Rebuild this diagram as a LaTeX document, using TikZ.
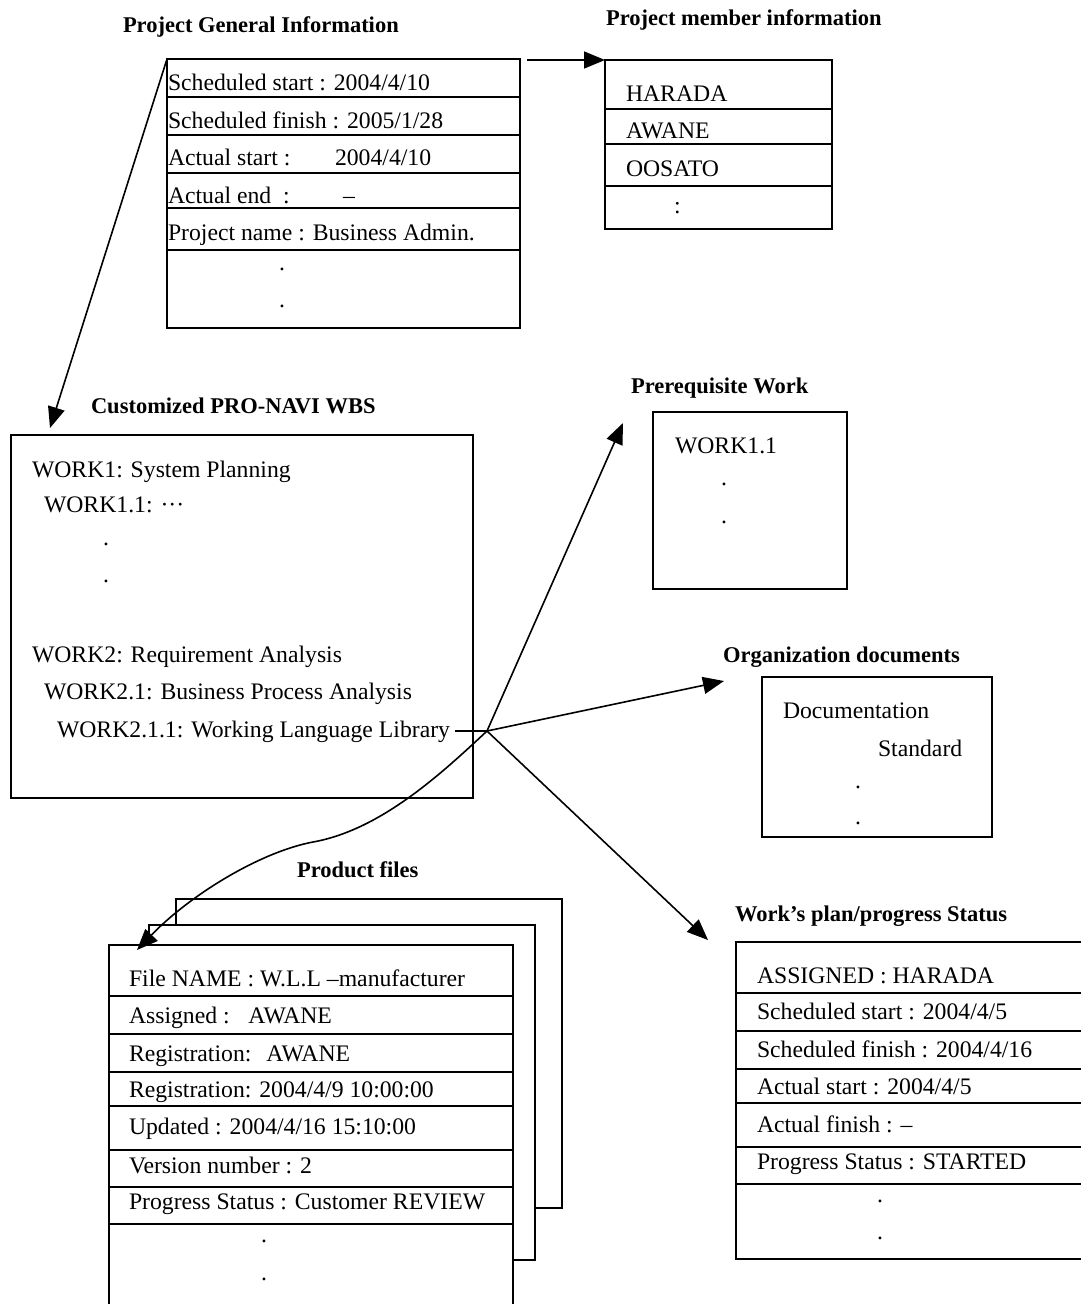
\documentclass[tikz,border=0pt]{standalone}
\usepackage{fontspec}
\setmainfont{Liberation Serif}
\usetikzlibrary{arrows.meta}
\newcommand\bodyfs{\fontsize{23.7}{28}\selectfont}
\newcommand\ttlfs{\fontsize{22.5}{27}\selectfont\bfseries}
\begin{document}
\begin{tikzpicture}[x=1pt,y=-1pt,
  frame/.style={draw,line width=1.6pt,fill=white,anchor=north west,inner sep=0pt,outer sep=0pt},
  rowline/.style={line width=1.6pt},
  txt/.style={anchor=base west,inner sep=0pt,outer sep=0pt,font=\bodyfs},
  ttl/.style={anchor=base west,inner sep=0pt,outer sep=0pt,font=\ttlfs},
  conn/.style={line width=1.6pt,-{Triangle[length=21pt,width=17pt]}},
  plain/.style={line width=1.6pt}]
\useasboundingbox (0,0) rectangle (1080,1304);

% ---------- Project General Information ----------
\node[ttl] (tpg) at (123,32) {Project General Information};
\node[frame,minimum width=353pt,minimum height=269pt] (pg) at (167,59) {};
\foreach \yy in {97,135,173,208,250} \draw[rowline] (167,\yy) -- (520,\yy);
\node[txt] (pg1) at (168,90) {Scheduled start : 2004/4/10};
\node[txt] (pg2) at (168,128) {Scheduled finish : 2005/1/28};
\node[txt] (pg3) at (168,165) {\makebox[167pt][l]{Actual start :}2004/4/10};
\node[txt] (pg4) at (168,203) {\makebox[175pt][l]{Actual end\ \ :}–};
\node[txt] (pg5) at (168,240) {Project name : Business Admin.};
\node[txt] (pg6) at (279,270) {.};
\node[txt] (pg7) at (279,307) {.};

% ---------- Project member information ----------
\node[ttl] (tpm) at (606,25) {Project member information};
\node[frame,minimum width=227pt,minimum height=169pt] (pm) at (605,60) {};
\foreach \yy in {109,144,186} \draw[rowline] (605,\yy) -- (832,\yy);
\node[txt] (pm1) at (626,101) {HARADA};
\node[txt] (pm2) at (626,138) {AWANE};
\node[txt] (pm3) at (626,176) {OOSATO};
\node[txt] (pm4) at (674,213) {:};

% ---------- Customized PRO-NAVI WBS ----------
\node[ttl] (twbs) at (91,413) {Customized PRO-NAVI WBS};
\node[frame,minimum width=462pt,minimum height=363pt] (wbs) at (11,435) {};
\node[txt] (w1) at (32,477) {WORK1: System Planning};
\node[txt] (w11) at (44,512) {WORK1.1: ···};
\node[txt] (wd1) at (103,545) {.};
\node[txt] (wd2) at (103,582) {.};
\node[txt] (w2) at (32,662) {WORK2: Requirement Analysis};
\node[txt] (w21) at (44,699) {WORK2.1: Business Process Analysis};
\node[txt] (w211) at (57,737) {WORK2.1.1: Working Language Library};

% ---------- Prerequisite Work ----------
\node[ttl] (tpr) at (631,393) {Prerequisite Work};
\node[frame,minimum width=194pt,minimum height=177pt] (pr) at (653,412) {};
\node[txt] (pr1) at (675,453) {WORK1.1};
\node[txt] (pr2) at (721,485) {.};
\node[txt] (pr3) at (721,523) {.};

% ---------- Organization documents ----------
\node[ttl] (tod) at (723,662) {Organization documents};
\node[frame,minimum width=230pt,minimum height=160pt] (od) at (762,677) {};
\node[txt] (od1) at (783,718) {Documentation};
\node[txt] (od2) at (878,756) {Standard};
\node[txt] (od3) at (855,788) {.};
\node[txt] (od4) at (855,824) {.};

% ---------- Product files ----------
\node[ttl] (tpf) at (297,877) {Product files};
\node[frame,minimum width=386pt,minimum height=309pt] (pfb) at (176,899) {};
\node[frame,minimum width=386pt,minimum height=335pt] (pfm) at (149,925) {};
\node[frame,minimum width=404pt,minimum height=375pt] (pf) at (109,945) {};
\foreach \yy in {996,1034,1072,1106,1150,1187,1224} \draw[rowline] (109,\yy) -- (513,\yy);
\node[txt] (pf1) at (129,986) {File NAME : W.L.L –manufacturer};
\node[txt] (pf2) at (129,1023) {Assigned : \hspace{0.45em}AWANE};
\node[txt] (pf3) at (129,1061) {Registration: \hspace{0.3em}AWANE};
\node[txt] (pf4) at (129,1097) {Registration: 2004/4/9 10:00:00};
\node[txt] (pf5) at (129,1134) {Updated : 2004/4/16 15:10:00};
\node[txt] (pf6) at (129,1173) {Version number : 2};
\node[txt] (pf7) at (129,1209) {Progress Status : Customer REVIEW};
\node[txt] (pf8) at (261,1242) {.};
\node[txt] (pf9) at (261,1280) {.};

% ---------- Work's plan/progress Status ----------
\node[ttl] (tws) at (735,921) {Work’s plan/progress Status};
\node[frame,minimum width=360pt,minimum height=317pt] (ws) at (736,942) {};
\foreach \yy in {993,1031,1069,1103,1147,1184} \draw[rowline] (736,\yy) -- (1096,\yy);
\node[txt] (ws1) at (757,983) {ASSIGNED : HARADA};
\node[txt] (ws2) at (757,1019) {Scheduled start : 2004/4/5};
\node[txt] (ws3) at (757,1057) {Scheduled finish : 2004/4/16};
\node[txt] (ws4) at (757,1094) {Actual start : 2004/4/5};
\node[txt] (ws5) at (757,1132) {Actual finish : –};
\node[txt] (ws6) at (757,1169) {Progress Status : STARTED};
\node[txt] (ws7) at (877,1202) {.};
\node[txt] (ws8) at (877,1239) {.};

% ---------- connectors ----------
\coordinate (hub) at (487,731);
\coordinate (pmstart) at (527,60);
\coordinate (wbsin) at (50,428);
\coordinate (prin) at (623,423);
\coordinate (odin) at (724,681);
\coordinate (wsin) at (708,940);
\coordinate (pfin) at (137,950);
\coordinate (pfmid) at (313,842);

\draw[conn] (pmstart) -- (pm.north west);
\draw[conn] (pg.north west) -- (wbsin);
\draw[plain] ([xshift=5pt]w211.east |- hub) -- (hub);
\draw[conn] (hub) -- (prin);
\draw[conn] (hub) -- (odin);
\draw[conn] (hub) -- (wsin);
\draw[conn] (hub) .. controls (440,775) and (380,830) .. (pfmid)
               .. controls (260,852) and (190,895) .. (pfin);
\end{tikzpicture}
\end{document}
